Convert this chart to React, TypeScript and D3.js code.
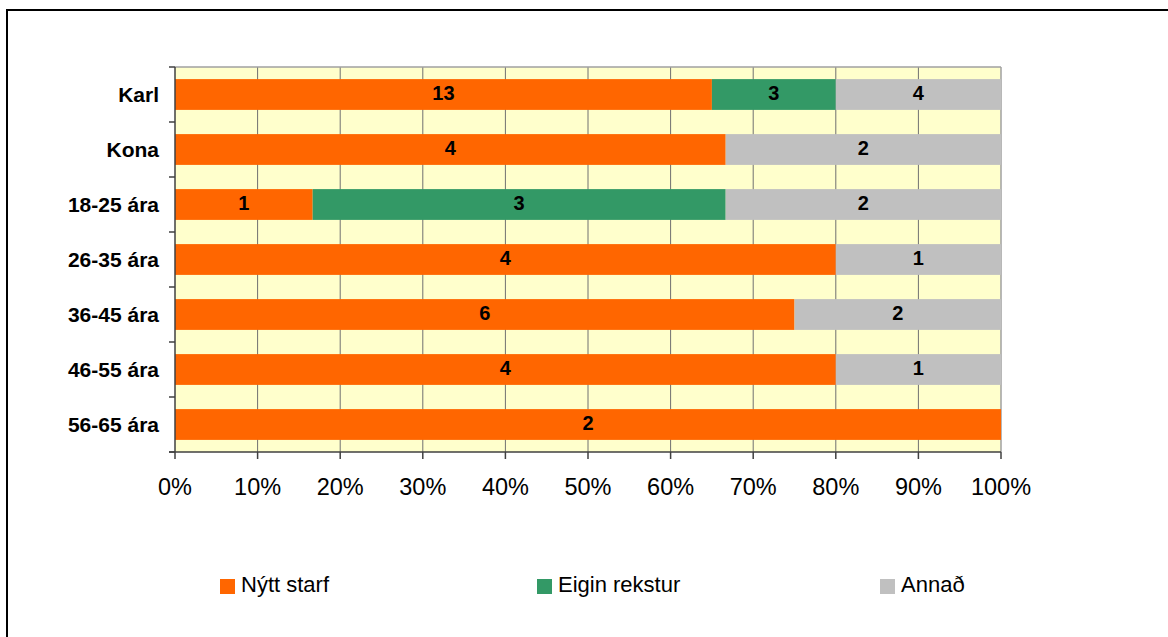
import React from "react";
import * as d3 from "d3";

const categories = ["Karl", "Kona", "18-25 ára", "26-35 ára", "36-45 ára", "46-55 ára", "56-65 ára"];
const seriesNames = ["Nýtt starf", "Eigin rekstur", "Annað"];
const nyttStarf = [13, 4, 1, 4, 6, 4, 2];
const eiginRekstur = [3, 0, 3, 0, 0, 0, 0];
const annad = [4, 2, 2, 1, 2, 1, 0];
const colors = ["#FF6600", "#339966", "#C0C0C0"];
const ticks = [0, 0.1, 0.2, 0.3, 0.4, 0.5, 0.6, 0.7, 0.8, 0.9, 1];

const W = 1168;
const H = 637;
const plot = { left: 175, right: 1001, top: 67, bottom: 452 };
const FONT = "'Liberation Sans', Arial, sans-serif";

export default function App() {
  const x = d3.scaleLinear().domain([0, 1]).range([plot.left, plot.right]);
  const y = d3.scaleBand().domain(categories).range([plot.top, plot.bottom]).paddingInner(0.44).paddingOuter(0.22);
  const rows = categories.map((c, i) => ({ cat: c, v: [nyttStarf[i], eiginRekstur[i], annad[i]] }));
  const stackData = rows.map((r) => {
    const total = d3.sum(r.v);
    let acc = 0;
    return r.v.map((v, k) => {
      const s = { k, v, x0: acc / total, x1: (acc + v) / total };
      acc += v;
      return s;
    });
  });
  const boundaries = d3.range(categories.length + 1).map((i) => plot.top + i * (plot.bottom - plot.top) / categories.length);
  const legendX = [220, 537, 880];

  return (
    <svg width={W} height={H} style={{ position: "absolute", left: 0, top: 0 }} fontFamily={FONT}>
      <rect x={0} y={0} width={W} height={H} fill="#fff" />
      <rect x={7} y={10} width={W + 20} height={H + 20} fill="none" stroke="#000" strokeWidth={2} />
      <rect x={plot.left} y={plot.top} width={plot.right - plot.left} height={plot.bottom - plot.top} fill="#FFFFCC" />
      {ticks.slice(1, -1).map((t) => (
        <line key={t} x1={x(t)} x2={x(t)} y1={plot.top} y2={plot.bottom} stroke="#707070" strokeWidth={1} />
      ))}
      <line x1={plot.left} x2={plot.right} y1={plot.top} y2={plot.top} stroke="#A0A0A0" strokeWidth={1.5} />
      <line x1={plot.right} x2={plot.right} y1={plot.top} y2={plot.bottom} stroke="#A0A0A0" strokeWidth={1.5} />
      {rows.map((r, i) =>
        stackData[i].map((s) =>
          s.v > 0 ? (
            <g key={`${r.cat}-${s.k}`}>
              <rect x={x(s.x0)} y={y(r.cat)!} width={x(s.x1) - x(s.x0)} height={y.bandwidth()} fill={colors[s.k]} />
              <text
                x={(x(s.x0) + x(s.x1)) / 2}
                y={y(r.cat)! + y.bandwidth() / 2 + 5.5}
                textAnchor="middle"
                fontWeight="bold"
                fontSize={20}
                fill="#000"
              >
                {s.v}
              </text>
            </g>
          ) : null
        )
      )}
      <line x1={plot.left} x2={plot.left} y1={plot.top} y2={plot.bottom} stroke="#404040" strokeWidth={1.5} />
      <line x1={plot.left - 6} x2={plot.right} y1={plot.bottom} y2={plot.bottom} stroke="#404040" strokeWidth={1.5} />
      {boundaries.map((b, i) => (
        <line key={i} x1={plot.left - 6} x2={plot.left} y1={b} y2={b} stroke="#404040" strokeWidth={1.5} />
      ))}
      {ticks.map((t) => (
        <g key={t}>
          <line x1={x(t)} x2={x(t)} y1={plot.bottom} y2={plot.bottom + 7} stroke="#404040" strokeWidth={1.5} />
          <text x={x(t)} y={495} textAnchor="middle" fontSize={23.5} fill="#000">
            {d3.format(".0%")(t)}
          </text>
        </g>
      ))}
      {categories.map((c) => (
        <text key={c} x={159} y={y(c)! + y.bandwidth() / 2 + 7} textAnchor="end" fontWeight="bold" fontSize={21} fill="#000">
          {c}
        </text>
      ))}
      {seriesNames.map((n, i) => (
        <g key={n}>
          <rect x={legendX[i]} y={579} width={15} height={15} fill={colors[i]} />
          <text x={legendX[i] + 21} y={592} fontSize={22} fill="#000">
            {n}
          </text>
        </g>
      ))}
    </svg>
  );
}
